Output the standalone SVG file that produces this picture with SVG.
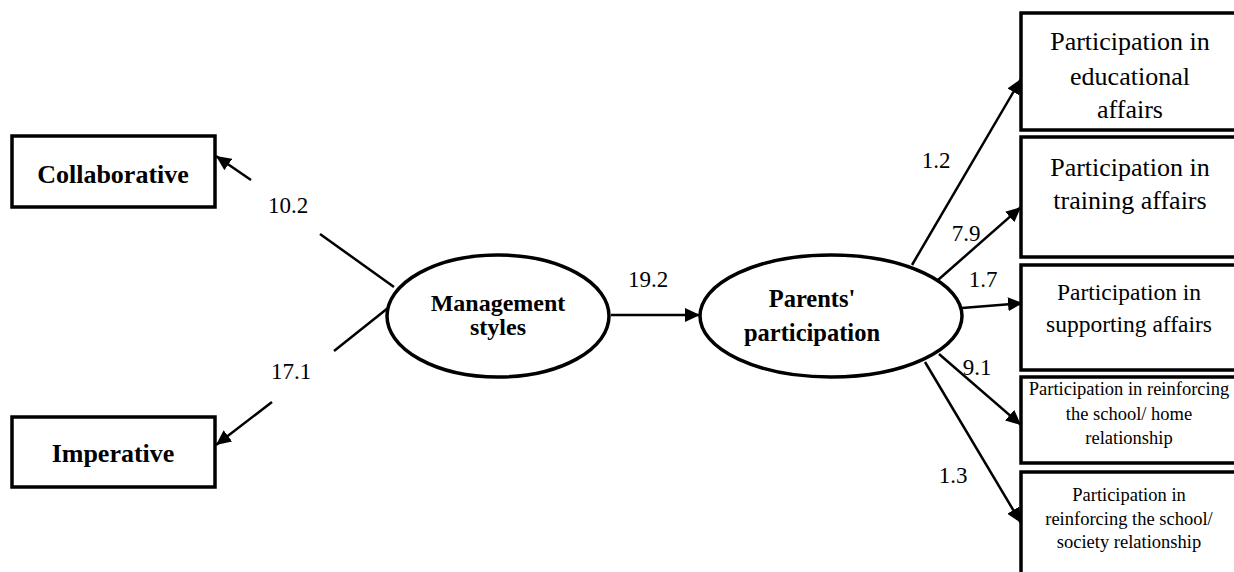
<svg xmlns="http://www.w3.org/2000/svg" width="1234" height="572" viewBox="0 0 1234 572">
<style>
  .box { fill: #fff; stroke: #000; stroke-width: 3.5; }
  .ell { fill: #fff; stroke: #000; stroke-width: 3.5; }
  text { font-family: "Liberation Serif", "DejaVu Serif", "Times New Roman", serif; fill: #000; text-anchor: middle; }
  .bl { font-weight: bold; }
  .num { font-size: 23px; }
  .ln { stroke: #000; stroke-width: 2.5; fill: none; }
</style>
<defs>
  <marker id="ah" markerUnits="userSpaceOnUse" markerWidth="16" markerHeight="14" refX="15" refY="7" orient="auto">
    <path d="M0,0 L15,7 L0,14 z" fill="#000"/>
  </marker>
</defs>
<rect width="1234" height="572" fill="#fff"/>

<g id="connectors">
  <line class="ln" x1="394" y1="287" x2="320" y2="234"/>
  <line class="ln" x1="251" y1="180" x2="216" y2="156" marker-end="url(#ah)"/>
  <line class="ln" x1="388" y1="308" x2="334" y2="351"/>
  <line class="ln" x1="272" y1="402" x2="216" y2="445" marker-end="url(#ah)"/>
  <line class="ln" x1="611" y1="315" x2="700" y2="315" stroke-width="3.5" marker-end="url(#ah)"/>
  <line class="ln" x1="912" y1="265" x2="1021" y2="79" marker-end="url(#ah)"/>
  <line class="ln" x1="938" y1="280" x2="1021" y2="207" marker-end="url(#ah)"/>
  <line class="ln" x1="962" y1="308" x2="1023" y2="303" marker-end="url(#ah)"/>
  <line class="ln" x1="939" y1="354" x2="1021" y2="425" marker-end="url(#ah)"/>
  <line class="ln" x1="925" y1="362" x2="1021" y2="523" marker-end="url(#ah)"/>
  <text class="num" x="288" y="213" font-family="Liberation Serif, DejaVu Serif, serif">10.2</text>
  <text class="num" x="291" y="379">17.1</text>
  <text class="num" x="648" y="287">19.2</text>
  <text class="num" x="936" y="168">1.2</text>
  <text class="num" x="966" y="241">7.9</text>
  <text class="num" x="983" y="287">1.7</text>
  <text class="num" x="977" y="375">9.1</text>
  <text class="num" x="953" y="483">1.3</text>
</g>

<g id="collaborative">
  <rect class="box" x="12" y="136" width="203" height="71"/>
  <text class="bl" x="113" y="183" font-size="26">Collaborative</text>
</g>
<g id="imperative">
  <rect class="box" x="12" y="417" width="203" height="70"/>
  <text class="bl" x="113" y="462" font-size="26">Imperative</text>
</g>
<g id="management">
  <ellipse class="ell" cx="498" cy="316" rx="111" ry="61"/>
  <text class="bl" x="498" y="311" font-size="24">Management</text>
  <text class="bl" x="498" y="335" font-size="24">styles</text>
</g>
<g id="parents">
  <ellipse class="ell" cx="831" cy="316" rx="131" ry="61"/>
  <text class="bl" x="812" y="307" font-size="24.5">Parents'</text>
  <text class="bl" x="812" y="341" font-size="24.5">participation</text>
</g>
<g id="educational">
  <rect class="box" x="1021" y="13" width="230" height="117"/>
  <text x="1130" y="50" font-size="26">Participation in</text>
  <text x="1130" y="85" font-size="26">educational</text>
  <text x="1130" y="118" font-size="26">affairs</text>
</g>
<g id="training">
  <rect class="box" x="1021" y="137" width="230" height="120"/>
  <text x="1130" y="176" font-size="26">Participation in</text>
  <text x="1130" y="209" font-size="26">training affairs</text>
</g>
<g id="supporting">
  <rect class="box" x="1021" y="265" width="230" height="105"/>
  <text x="1129" y="300" font-size="23.5">Participation in</text>
  <text x="1129" y="332" font-size="23.5">supporting affairs</text>
</g>
<g id="home">
  <rect class="box" x="1021" y="377" width="230" height="86"/>
  <text x="1129" y="395" font-size="18.5">Participation in reinforcing</text>
  <text x="1129" y="420" font-size="18.5">the school/ home</text>
  <text x="1129" y="444" font-size="18.5">relationship</text>
</g>
<g id="society">
  <rect class="box" x="1021" y="472" width="230" height="120"/>
  <text x="1129" y="501" font-size="18.5">Participation in</text>
  <text x="1129" y="525" font-size="18.5">reinforcing the school/</text>
  <text x="1129" y="548" font-size="18.5">society relationship</text>
</g>
</svg>
